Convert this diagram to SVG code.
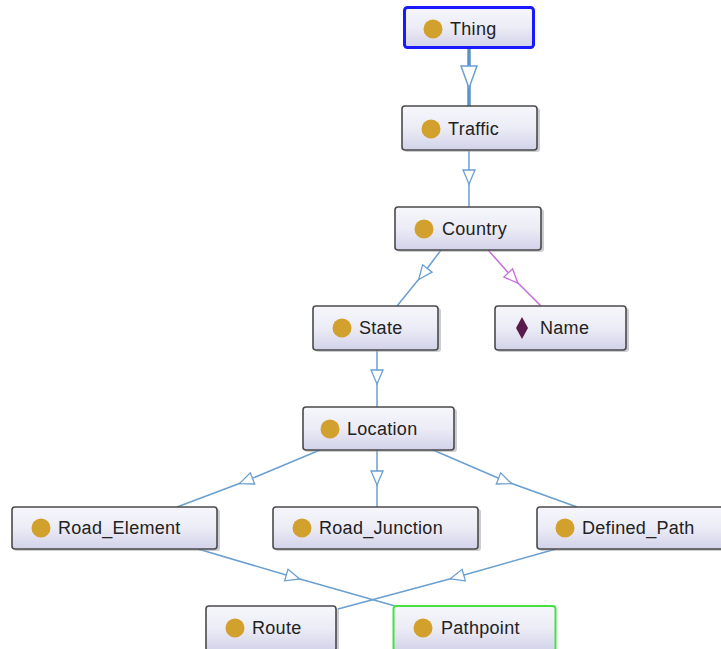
<svg xmlns="http://www.w3.org/2000/svg" width="721" height="649" viewBox="0 0 721 649">
<defs>
<linearGradient id="g" x1="0" y1="0" x2="0" y2="1">
<stop offset="0" stop-color="#f6f6fc"/>
<stop offset="0.5" stop-color="#ececf6"/>
<stop offset="1" stop-color="#d2d2ea"/>
</linearGradient>
<marker id="tri" viewBox="0 0 16 14" refX="8" refY="7" markerWidth="16" markerHeight="14" markerUnits="userSpaceOnUse" orient="auto">
<path d="M1,1 L15,7 L1,13 Z" fill="#fff" stroke="#6a9fcf" stroke-width="1.3"/>
</marker>
<marker id="triBig" viewBox="0 0 24 18" refX="12" refY="9" markerWidth="24" markerHeight="18" markerUnits="userSpaceOnUse" orient="auto">
<path d="M1,1 L23,9 L1,17 Z" fill="#fff" stroke="#6a9fcf" stroke-width="1.5"/>
</marker>
<marker id="triP" viewBox="0 0 16 14" refX="8" refY="7" markerWidth="16" markerHeight="14" markerUnits="userSpaceOnUse" orient="auto">
<path d="M1,1 L15,7 L1,13 Z" fill="#fff" stroke="#c86cdc" stroke-width="1.3"/>
</marker>
</defs>
<style>
.box{fill:url(#g);stroke:#4a4a4a;stroke-width:1.6}
.sh{fill:#9a9aa8;opacity:0.5}
.dot{fill:#d2a02c}
.lbl{font-family:"Liberation Sans",Arial,sans-serif;font-size:18px;letter-spacing:0.3px;fill:#222}
.e{fill:none;stroke:#6a9fcf;stroke-width:1.5;marker-mid:url(#tri)}
</style>
<rect width="721" height="649" fill="#fff"/>
<g id="connectors">
<path d="M469,49 L469,77 L469,106" fill="none" stroke="#5b93c8" stroke-width="3.5" marker-mid="url(#triBig)"/>
<path class="e" d="M469,151 L469,177 L469,207"/>
<path class="e" d="M441,250 L423,274 L397,306"/>
<path d="M488,250 L513,278 L541,306" fill="none" stroke="#c86cdc" stroke-width="1.5" marker-mid="url(#triP)"/>
<path class="e" d="M377,350 L377,377 L377,407"/>
<path class="e" d="M320,450 L246,481 L177,507"/>
<path class="e" d="M377,450 L377,478 L377,507"/>
<path class="e" d="M433,450 L505,481 L577,507"/>
<path class="e" d="M198,549 L293,577 L395,606"/>
<path class="e" d="M556,549 L457,577 L338,609"/>
</g>
<g id="Thing">
<rect class="box" x="404.5" y="7.5" width="129" height="40" rx="3" style="stroke:#1a1aff;stroke-width:3"/>
<circle class="dot" cx="433" cy="29" r="9.5"/>
<text class="lbl" x="450" y="35">Thing</text>
</g>
<g id="Traffic">
<rect class="sh" x="404" y="108" width="136" height="44" rx="3"/>
<rect class="box" x="402" y="106" width="135" height="44" rx="3"/>
<circle class="dot" cx="431" cy="129" r="9.5"/>
<text class="lbl" x="448" y="135">Traffic</text>
</g>
<g id="Country">
<rect class="sh" x="397" y="209" width="147" height="43" rx="3"/>
<rect class="box" x="395" y="207" width="146" height="43" rx="3"/>
<circle class="dot" cx="424" cy="229" r="9.5"/>
<text class="lbl" x="442" y="235">Country</text>
</g>
<g id="State">
<rect class="sh" x="315" y="308" width="126" height="44" rx="3"/>
<rect class="box" x="313" y="306" width="125" height="44" rx="3"/>
<circle class="dot" cx="342" cy="328" r="9.5"/>
<text class="lbl" x="359" y="334">State</text>
</g>
<g id="Name">
<rect class="sh" x="497" y="308" width="132" height="44" rx="3"/>
<rect class="box" x="495" y="306" width="131" height="44" rx="3"/>
<path d="M522,317 L528,328 L522,339 L516,328 Z" fill="#5a1a4e"/>
<text class="lbl" x="540" y="334">Name</text>
</g>
<g id="Location">
<rect class="sh" x="305" y="409" width="152" height="43" rx="3"/>
<rect class="box" x="303" y="407" width="151" height="43" rx="3"/>
<circle class="dot" cx="330" cy="429" r="9.5"/>
<text class="lbl" x="347" y="435">Location</text>
</g>
<g id="Road_Element">
<rect class="sh" x="14" y="509" width="206" height="42" rx="3"/>
<rect class="box" x="12" y="507" width="205" height="42" rx="3"/>
<circle class="dot" cx="41" cy="528" r="9.5"/>
<text class="lbl" x="58" y="534">Road_Element</text>
</g>
<g id="Road_Junction">
<rect class="sh" x="275" y="509" width="206" height="42" rx="3"/>
<rect class="box" x="273" y="507" width="205" height="42" rx="3"/>
<circle class="dot" cx="302" cy="528" r="9.5"/>
<text class="lbl" x="319" y="534">Road_Junction</text>
</g>
<g id="Defined_Path">
<rect class="sh" x="539" y="509" width="190" height="42" rx="3"/>
<rect class="box" x="537" y="507" width="190" height="42" rx="3"/>
<circle class="dot" cx="565" cy="528" r="9.5"/>
<text class="lbl" x="582" y="534">Defined_Path</text>
</g>
<g id="Route">
<rect class="sh" x="208" y="608" width="131" height="45" rx="3"/>
<rect class="box" x="206" y="606" width="130" height="45" rx="3"/>
<circle class="dot" cx="235" cy="628" r="9.5"/>
<text class="lbl" x="252" y="634">Route</text>
</g>
<g id="Pathpoint">
<rect class="box" x="393.5" y="606" width="162" height="45" rx="3" style="stroke:#44e044;stroke-width:2"/>
<circle class="dot" cx="423" cy="628" r="9.5"/>
<text class="lbl" x="441" y="634">Pathpoint</text>
</g>
</svg>
